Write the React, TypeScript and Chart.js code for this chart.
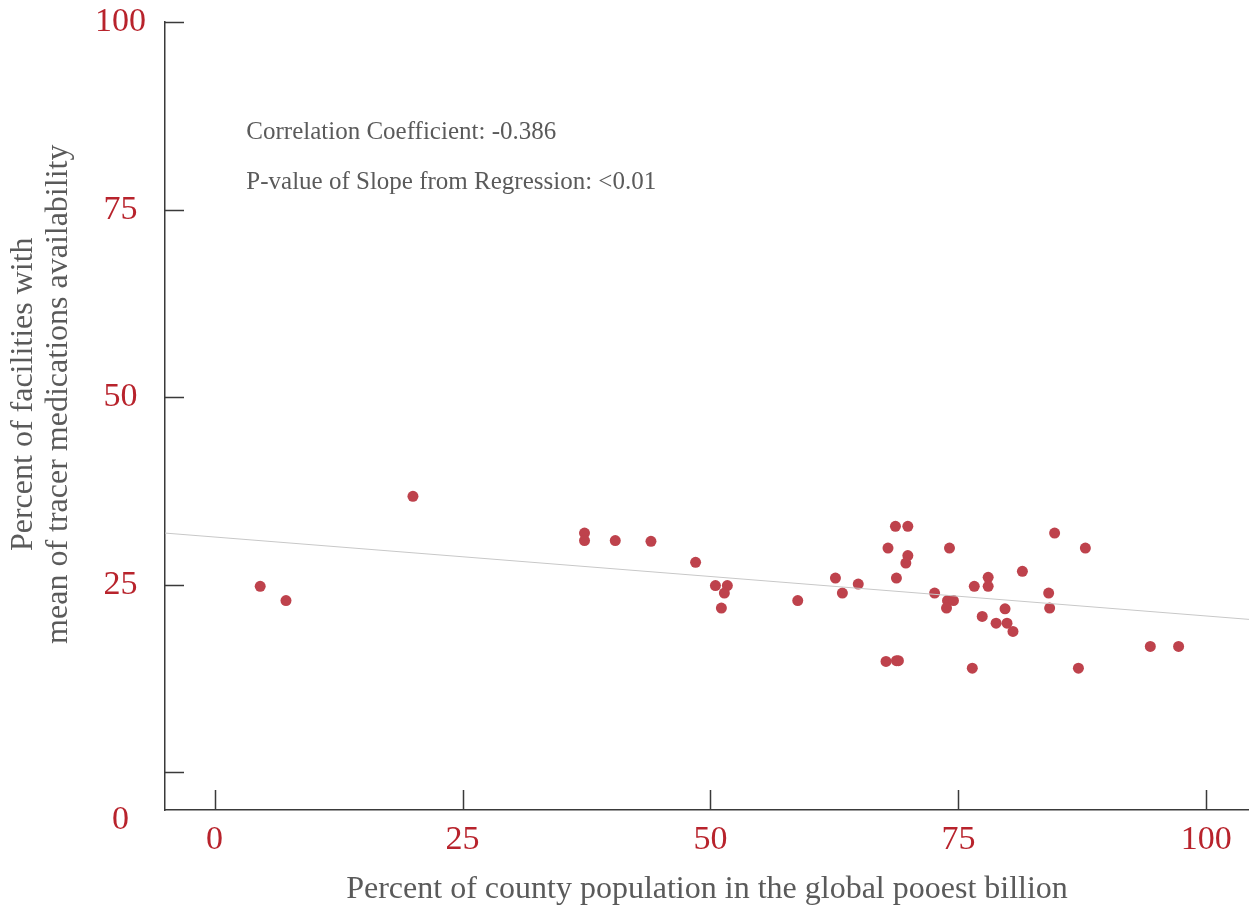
import React, { useEffect, useRef } from "react";
import { Chart, registerables } from "chart.js";

Chart.register(...registerables);

// Percent of county population in the global poorest billion
const povertyPct = [
  4.6, 7.2, 20.0, 37.3, 37.3, 40.4, 44.0, 48.5, 50.5, 51.7, 51.4, 51.1, 58.8, 62.6, 63.3,
  64.9, 68.65, 69.9, 67.9, 69.9, 69.7, 68.75, 74.1, 72.6, 73.9, 74.5, 73.8, 76.6, 78.0, 78.0,
  81.45, 77.4, 78.8, 79.7, 79.9, 80.5, 84.1, 84.2, 84.7, 87.8, 67.7, 68.75, 68.95, 76.4, 87.1,
  94.35, 97.2,
];
// Percent of facilities with mean of tracer medications availability
const medsAvailPct = [
  24.8, 22.9, 36.8, 31.9, 30.9, 30.9, 30.8, 28.0, 24.9, 24.9, 23.9, 21.9, 22.9, 25.9, 23.9,
  25.1, 32.8, 32.8, 29.9, 28.9, 27.9, 25.9, 29.9, 23.9, 22.9, 22.9, 21.9, 24.8, 26.0, 24.8,
  26.8, 20.8, 19.9, 21.8, 19.9, 18.8, 23.9, 21.9, 31.9, 29.9, 14.8, 14.9, 14.9, 13.9, 13.9,
  16.8, 16.8,
];

const regressionX = [-5, 104.3];
const regressionY = [31.9, 20.4];

const xTickValues = [0, 25, 50, 75, 100];
const xTickLabels = ["0", "25", "50", "75", "100"];
const yTickValues = [-6.4, 0, 25, 50, 75, 100];
const yTickLabels = ["0", "", "25", "50", "75", "100"];

const annotationLines = [
  "Correlation Coefficient: -0.386",
  "P-value of Slope from Regression: <0.01",
];
const annotationX = [3.2, 3.2];
const annotationY = [85.3, 78.6];

const xTitle = "Percent of county population in the global pooest billion";
const yTitle = ["Percent of facilities with", "mean of tracer medications availability"];
const yTitleCenterValue = 50.4;

const SERIF = "'Liberation Serif', 'DejaVu Serif', serif";
const RED = "#B8232C";
const GREY = "#5a5a5a";

export default function App() {
  const ref = useRef<HTMLCanvasElement | null>(null);

  useEffect(() => {
    document.body.style.margin = "0";
    const canvas = ref.current;
    if (!canvas) return;

    const decorations = {
      id: "decorations",
      afterDraw(chart: any) {
        const { ctx } = chart;
        const xs = chart.scales.x;
        const ys = chart.scales.y;
        ctx.save();
        // inward tick marks
        ctx.strokeStyle = "#3a3a3a";
        ctx.lineWidth = 1.5;
        ctx.beginPath();
        yTickValues.forEach((v) => {
          if (v < ys.min) return;
          const py = Math.round(ys.getPixelForValue(v)) + 0.5;
          ctx.moveTo(xs.left, py);
          ctx.lineTo(xs.left + 19, py);
        });
        xTickValues.forEach((v) => {
          const px = Math.round(xs.getPixelForValue(v)) + 0.5;
          ctx.moveTo(px, ys.bottom);
          ctx.lineTo(px, ys.bottom - 20);
        });
        ctx.stroke();
        // annotation text
        ctx.fillStyle = GREY;
        ctx.font = `25px ${SERIF}`;
        ctx.textBaseline = "middle";
        ctx.textAlign = "left";
        annotationLines.forEach((t, i) => {
          ctx.fillText(t, xs.getPixelForValue(annotationX[i]), ys.getPixelForValue(annotationY[i]));
        });
        // y axis title (two lines, rotated)
        ctx.font = `32px ${SERIF}`;
        ctx.textAlign = "center";
        ctx.translate(ys.left, ys.getPixelForValue(yTitleCenterValue));
        ctx.rotate(-Math.PI / 2);
        yTitle.forEach((t, i) => {
          ctx.fillText(t, 0, 24 + i * 34.5);
        });
        ctx.restore();
      },
    };

    const chart = new Chart(canvas, {
      type: "scatter",
      data: {
        datasets: [
          {
            type: "line",
            data: regressionX.map((x, i) => ({ x, y: regressionY[i] })),
            borderColor: "#c8c8c8",
            borderWidth: 1,
            pointRadius: 0,
            fill: false,
          } as any,
          {
            data: povertyPct.map((x, i) => ({ x, y: medsAvailPct[i] })),
            backgroundColor: "rgb(190,66,76)",
            borderWidth: 0,
            pointRadius: 5.5,
          },
        ],
      },
      options: {
        responsive: false,
        animation: false,
        layout: { autoPadding: false, padding: { top: 22, right: 0, bottom: 0, left: 0 } },
        plugins: { legend: { display: false }, tooltip: { enabled: false } },
        scales: {
          x: {
            type: "linear",
            min: -5,
            max: 104.3,
            afterBuildTicks: (s: any) => {
              s.ticks = xTickValues.map((value) => ({ value }));
            },
            afterFit: (s: any) => {
              s.height = 97;
              s.paddingLeft = 0;
              s.paddingRight = 0;
            },
            ticks: {
              callback: (_v: any, i: number) => xTickLabels[i],
              color: RED,
              font: { family: SERIF, size: 34 },
              padding: 10,
              maxRotation: 0,
              autoSkip: false,
            },
            grid: { display: false, drawTicks: false },
            border: { color: "#3a3a3a", width: 1.5 },
            title: {
              display: true,
              text: xTitle,
              color: GREY,
              font: { family: SERIF, size: 32, lineHeight: 1.1 },
              padding: { top: 0, bottom: 0 },
            },
          },
          y: {
            type: "linear",
            min: -5,
            max: 100,
            afterBuildTicks: (s: any) => {
              s.ticks = yTickValues.map((value) => ({ value }));
            },
            afterFit: (s: any) => {
              s.width = 165;
              s.paddingTop = 0;
              s.paddingBottom = 0;
            },
            ticks: {
              callback: (_v: any, i: number) => yTickLabels[i],
              color: RED,
              font: { family: SERIF, size: 34 },
              padding: 19,
              crossAlign: "center",
              autoSkip: false,
            },
            grid: { display: false, drawTicks: false },
            border: { color: "#3a3a3a", width: 1.5 },
            title: { display: false },
          },
        },
      },
      plugins: [decorations],
    });

    return () => chart.destroy();
  }, []);

  return (
    <div style={{ width: 1249, height: 907 }}>
      <canvas ref={ref} width={1249} height={907} />
    </div>
  );
}
